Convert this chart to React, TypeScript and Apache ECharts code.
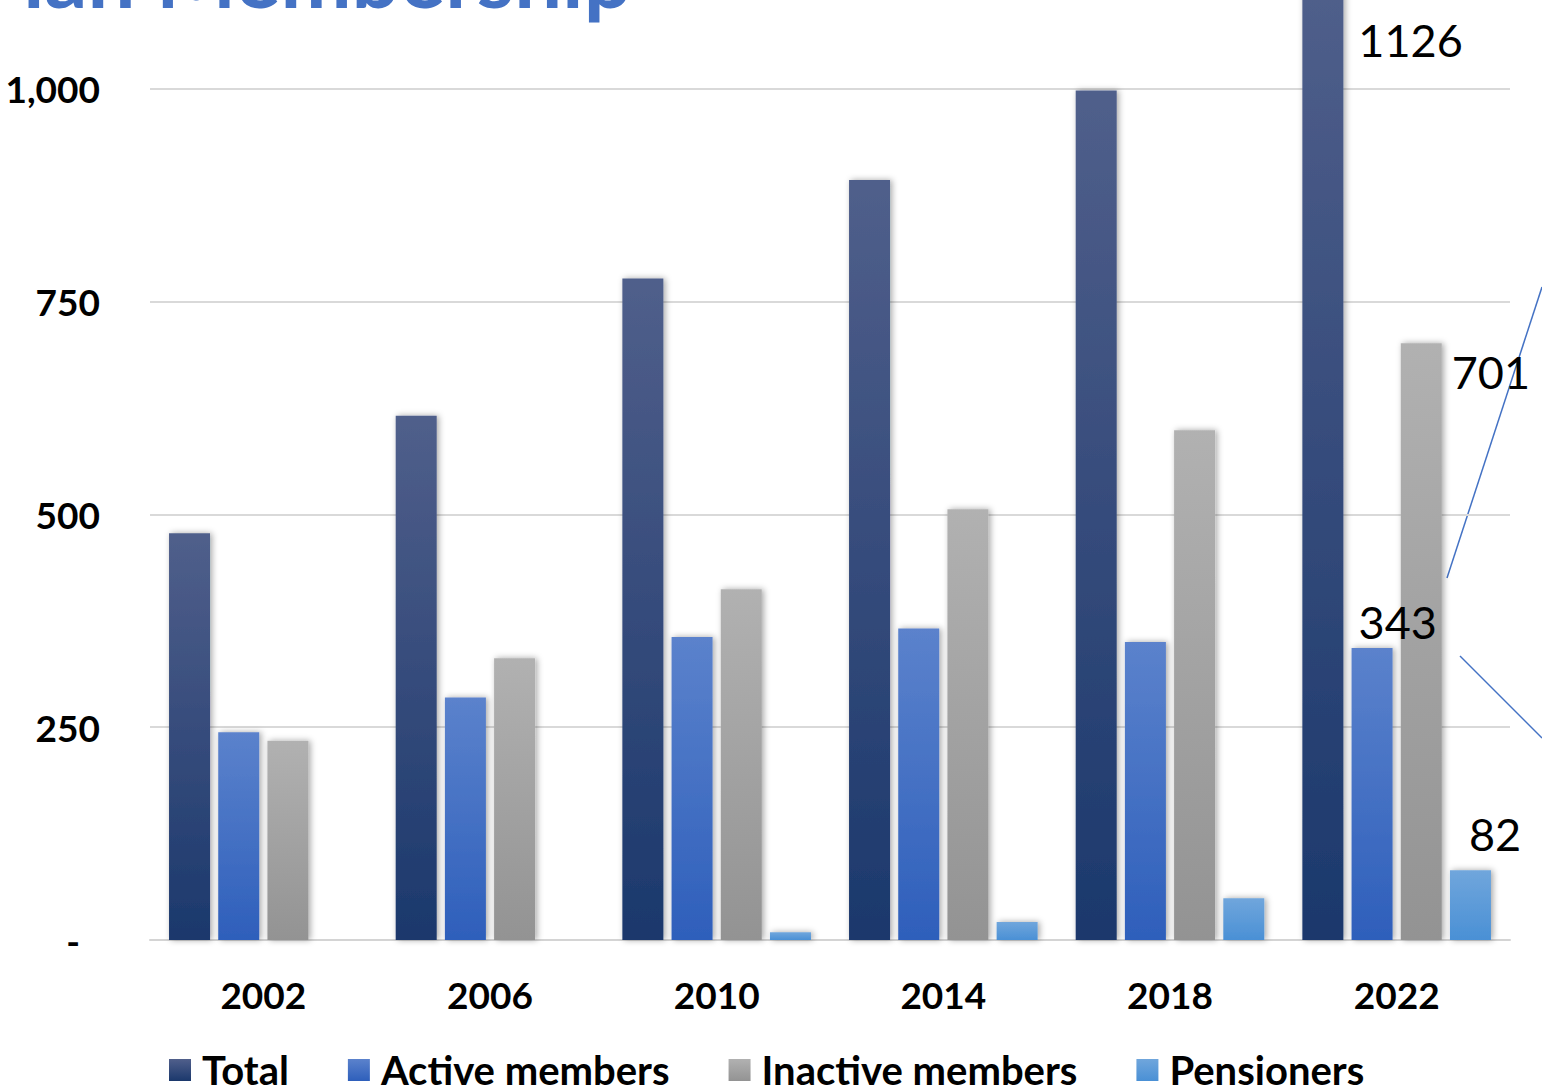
import React, { useEffect, useRef } from "react";
import * as echarts from "echarts";

const categories = ["2002", "2006", "2010", "2014", "2018", "2022"];
const totalValues = [478, 616, 777, 893, 998, 1126];
const activeValues = [244, 285, 356, 366, 350, 343];
const inactiveValues = [234, 331, 412, 506, 599, 701];
const pensionerValues = [0, 0, 9, 21, 49, 82];
const seriesNames = ["Total", "Active members", "Inactive members", "Pensioners"];
const yTicks = [0, 250, 500, 750, 1000, 1250];
const titleText = "Plan Membership";

const FONT = "Lato, 'Open Sans', sans-serif";
const OFF = 124; // part of the chart that lies above the visible page

function grad(top: string, bottom: string) {
  return new echarts.graphic.LinearGradient(0, 0, 0, 1, [
    { offset: 0, color: top },
    { offset: 1, color: bottom },
  ]);
}

const shadow = {
  shadowColor: "rgba(0,0,0,0.35)",
  shadowBlur: 6,
  shadowOffsetX: 2,
  shadowOffsetY: 0,
};

function withLastLabel(values: number[], pos: [number, number]) {
  return values.map((v, i) =>
    i === values.length - 1
      ? {
          value: v,
          label: {
            show: true,
            position: pos,
            align: "left",
            verticalAlign: "middle",
            fontFamily: FONT,
            fontSize: 45,
            color: "#000",
            formatter: "{c}",
          },
        }
      : { value: v }
  );
}

export default function App() {
  const ref = useRef<HTMLDivElement>(null);
  useEffect(() => {
    if (!ref.current) return;
    const chart = echarts.init(ref.current, null, { renderer: "svg" });
    const colors = [
      grad("#505f8b", "#1b386c"),
      grad("#5b82cc", "#2e5fbb"),
      grad("#b1b1b1", "#939393"),
      grad("#70a6dc", "#4a90d5"),
    ];
    const labelPos: [number, number][] = [
      [56, 58],
      [7, -26],
      [51, 29],
      [19, -36],
    ];
    const valueSets = [totalValues, activeValues, inactiveValues, pensionerValues];
    chart.setOption({
      animation: false,
      backgroundColor: "#fff",
      grid: {
        left: 150,
        right: 32,
        top: 0,
        bottom: 151,
        containLabel: false,
        outerBoundsMode: "none",
      },
      legend: {
        data: seriesNames,
        left: 164,
        top: 1045 + OFF,
        icon: "rect",
        itemWidth: 22,
        itemHeight: 22,
        itemGap: 59,
        textStyle: { fontFamily: FONT, fontWeight: "bold", fontSize: 40, color: "#000", padding: [0, 0, 0, 6] },
      },
      xAxis: {
        type: "category",
        data: categories,
        axisTick: { show: false },
        axisLine: { lineStyle: { color: "#d4d4d4", width: 2 } },
        axisLabel: {
          margin: 36,
          fontFamily: FONT,
          fontWeight: "bold",
          fontSize: 37,
          color: "#000",
        },
      },
      yAxis: {
        type: "value",
        min: yTicks[0],
        max: yTicks[yTicks.length - 1],
        interval: 250,
        axisLine: { show: false },
        axisTick: { show: false },
        splitLine: { lineStyle: { color: "#d9d9d9", width: 2 } },
        axisLabel: {
          margin: 50,
          fontFamily: FONT,
          fontWeight: "bold",
          fontSize: 37,
          color: "#000",
          formatter: (v: number) =>
            v === 0 ? "{d|-}" : v.toLocaleString("en-US"),
          rich: {
            d: { fontFamily: FONT, fontWeight: "bold", fontSize: 37, color: "#000", padding: [0, 20, 0, 0] },
          },
        },
      },
      series: seriesNames.map((name, i) => ({
        name,
        type: "bar",
        barWidth: 41,
        barGap: "20%",
        itemStyle: { color: colors[i], ...shadow },
        data: withLastLabel(valueSets[i], labelPos[i]),
      })),
      graphic: [
        {
          type: "text",
          x: 632,
          y: 17 + OFF,
          style: {
            text: titleText,
            fontFamily: FONT,
            fontWeight: "bold",
            fontSize: 85,
            fill: "#4472C4",
            textAlign: "right",
            textVerticalAlign: "bottom",
          },
        },
        {
          type: "line",
          shape: { x1: 1447, y1: 578 + OFF, x2: 1542, y2: 287 + OFF },
          style: { stroke: "#4472C4", lineWidth: 1.5 },
        },
        {
          type: "line",
          shape: { x1: 1460, y1: 656 + OFF, x2: 1542, y2: 738 + OFF },
          style: { stroke: "#4472C4", lineWidth: 1.5 },
        },
      ],
    });
    return () => chart.dispose();
  }, []);
  return (
    <div
      ref={ref}
      style={{ position: "fixed", left: 0, top: -OFF, width: 1542, height: 1091 + OFF, background: "#fff" }}
    />
  );
}
